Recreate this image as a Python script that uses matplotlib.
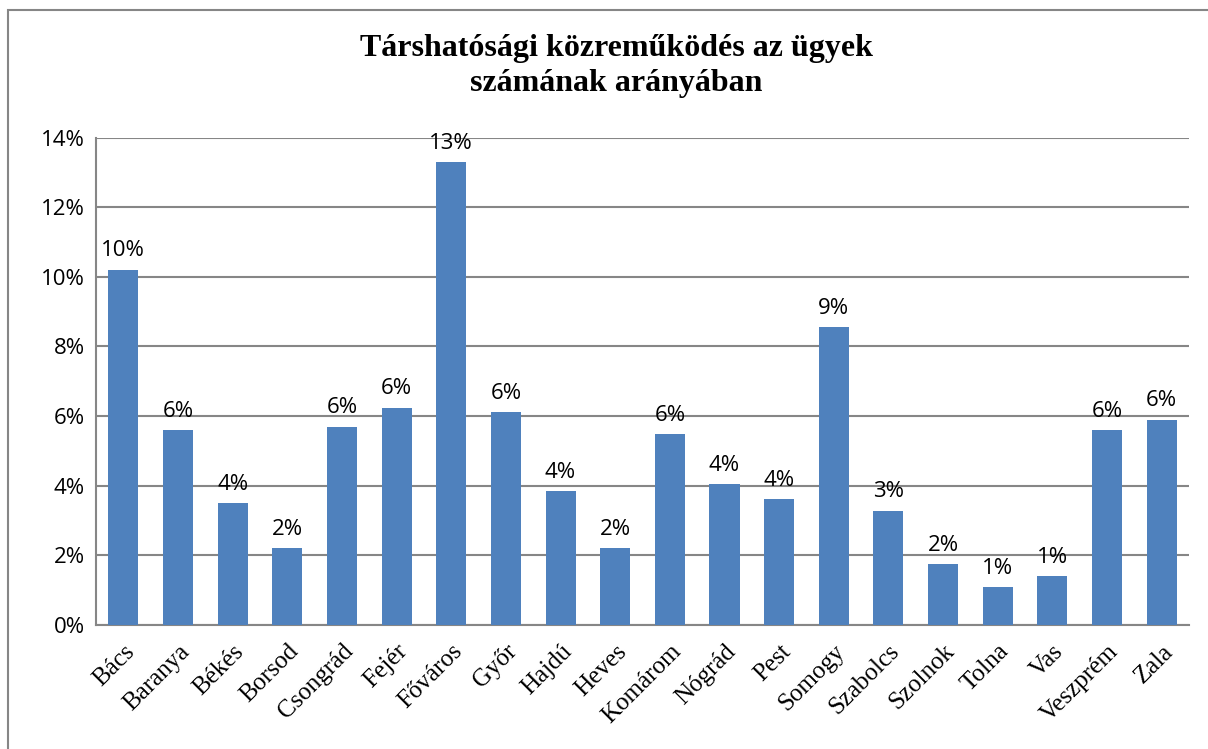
import matplotlib
matplotlib.use("Agg")
import matplotlib.pyplot as plt
from matplotlib.patches import Rectangle

# megyek es ertekek (%)
megyek = ["Bács", "Baranya", "Békés", "Borsod", "Csongrád", "Fejér", "Főváros",
          "Győr", "Hajdú", "Heves", "Komárom", "Nógrád", "Pest", "Somogy",
          "Szabolcs", "Szolnok", "Tolna", "Vas", "Veszprém", "Zala"]
ertekek = [10.2, 5.6, 3.5, 2.2, 5.7, 6.24, 13.3, 6.12, 3.84, 2.2,
           5.48, 4.05, 3.61, 8.55, 3.28, 1.74, 1.09, 1.41, 5.6, 5.9]
cimkek = ["10%", "6%", "4%", "2%", "6%", "6%", "13%", "6%", "4%", "2%",
          "6%", "4%", "4%", "9%", "3%", "2%", "1%", "1%", "6%", "6%"]
y_ticks = [0, 2, 4, 6, 8, 10, 12, 14]

fig = plt.figure(figsize=(12.08, 7.49), dpi=100)
ax = fig.add_axes([0.0795, 0.1656, 0.9048, 0.6508])

x = range(len(megyek))
ax.bar(x, ertekek, width=0.55, color="#4F81BD", zorder=3)

# adatcimkek a oszlopok felett
for i, (v, c) in enumerate(zip(ertekek, cimkek)):
    ax.annotate(c, (i, v), xytext=(0, 6), textcoords="offset points",
                ha="center", va="bottom", fontsize=16, family="Open Sans")

ax.set_xlim(-0.5, len(megyek) - 0.5)
ax.set_ylim(0, 14)
ax.set_yticks(y_ticks)
ax.set_yticklabels([f"{t}%" for t in y_ticks], fontsize=16, family="Open Sans")
ax.set_xticks(list(x))
ax.set_xticklabels(megyek, rotation=45, ha="right", rotation_mode="anchor",
                   fontsize=18, family="Liberation Serif")
ax.tick_params(length=0, pad=8)
ax.tick_params(axis="x", pad=11)

ax.grid(axis="y", color="#868686", linewidth=1.5, zorder=0)
for s in ["top", "right"]:
    ax.spines[s].set_visible(False)
for s in ["left", "bottom"]:
    ax.spines[s].set_color("#868686")
    ax.spines[s].set_linewidth(1.5)

fig.text(0.51, 0.912, "Társhatósági közreműködés az ügyek\nszámának arányában",
         ha="center", va="center", fontsize=23, fontweight="bold",
         family="Liberation Serif", linespacing=1.3)

# kulso keret
fig.patches.append(Rectangle((8 / 1208, -0.1), 1.2, 1 - 10 / 749 + 0.1,
                             transform=fig.transFigure, fill=False,
                             edgecolor="#868686", linewidth=1.5))

fig.savefig("out.png", dpi=100)
